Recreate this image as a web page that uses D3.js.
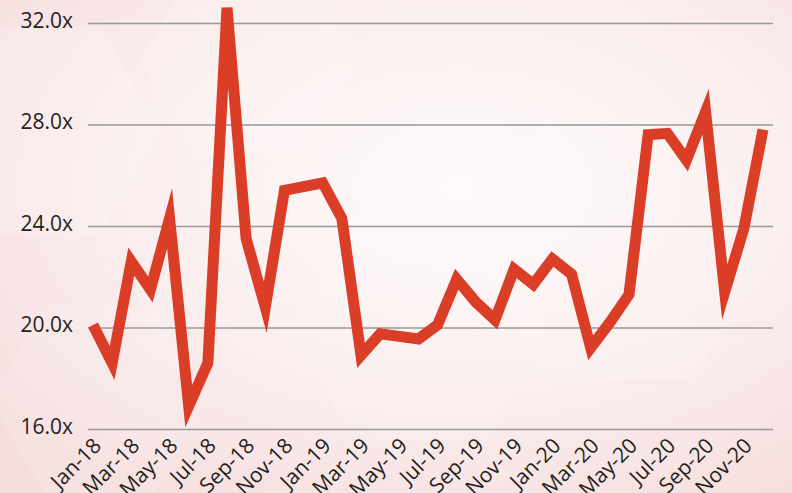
<!DOCTYPE html>
<html>
<head>
<meta charset="utf-8">
<script src="https://cdn.jsdelivr.net/npm/d3@7"></script>
<style>
  html, body { margin: 0; padding: 0; background: #fbeeee; }
  svg { display: block; }
</style>
</head>
<body>
<svg width="792" height="493"></svg>
<script>
const months = [
    'Jan-18', 'Feb-18', 'Mar-18', 'Apr-18', 'May-18', 'Jun-18', 'Jul-18', 'Aug-18', 'Sep-18', 'Oct-18', 'Nov-18', 'Dec-18',
    'Jan-19', 'Feb-19', 'Mar-19', 'Apr-19', 'May-19', 'Jun-19', 'Jul-19', 'Aug-19', 'Sep-19', 'Oct-19', 'Nov-19', 'Dec-19',
    'Jan-20', 'Feb-20', 'Mar-20', 'Apr-20', 'May-20', 'Jun-20', 'Jul-20', 'Aug-20', 'Sep-20', 'Oct-20', 'Nov-20', 'Dec-20'
]
const multiples = [
    20.1, 18.6, 22.6, 21.5, 24.3, 16.9, 18.6, 32.6, 23.5, 20.8, 25.4, 25.55,
    25.7, 24.3, 18.9, 19.75, 19.65, 19.55, 20.1, 21.9, 21.0, 20.3, 22.3, 21.7,
    22.7, 22.1, 19.2, 20.2, 21.3, 27.6, 27.65, 26.6, 28.5, 21.4, 23.9, 27.8
]
const yTicks = [16, 20, 24, 28, 32]

const width = 792
const height = 493
const svg = d3.select('svg')

// soft pink backdrop
const defs = svg.append('defs')
const bg = defs.append('radialGradient').attr('id', 'bg')
    .attr('cx', '58%').attr('cy', '38%').attr('r', '75%')
bg.append('stop').attr('offset', '0%').attr('stop-color', '#fefafa')
bg.append('stop').attr('offset', '55%').attr('stop-color', '#fbeeee')
bg.append('stop').attr('offset', '100%').attr('stop-color', '#f6dede')
svg.append('rect').attr('width', width).attr('height', height).attr('fill', 'url(#bg)')

// faint hexagons in the background
const hexes = [
    { cx: 40, cy: 130, r: 120, o: 0.18 },
    { cx: 250, cy: 60, r: 110, o: 0.15 },
    { cx: 620, cy: 250, r: 150, o: 0.12 },
    { cx: 420, cy: 330, r: 130, o: 0.1 },
    { cx: 100, cy: 400, r: 110, o: 0.12 }
]
const hexPath = h => {
    const pts = d3.range(6).map(i => {
        const a = Math.PI / 3 * i
        return [h.cx + h.r * Math.cos(a), h.cy + h.r * Math.sin(a)]
    })
    return 'M' + pts.join('L') + 'Z'
}
svg.append('g').selectAll('path').data(hexes).join('path')
    .attr('d', hexPath)
    .attr('fill', '#ffffff')
    .attr('fill-opacity', h => h.o)

const x = d3.scalePoint().domain(months).range([93, 763])
const y = d3.scaleLinear().domain([16, 32]).range([429, 23])

const gridLeft = 88
const gridRight = 773

const yAxis = svg.append('g')
    .attr('transform', `translate(${gridLeft},0)`)
    .call(d3.axisLeft(y)
        .tickValues(yTicks)
        .tickSize(-(gridRight - gridLeft))
        .tickPadding(15)
        .tickFormat(d => d.toFixed(1) + 'x'))
yAxis.select('.domain').remove()
yAxis.selectAll('line').attr('stroke', '#9b9898').attr('stroke-width', 1.5)
yAxis.selectAll('text')
    .attr('fill', '#231f20')
    .attr('font-family', 'Open Sans, sans-serif')
    .attr('font-size', 21)
    .attr('dy', '0.2em')

const xAxis = svg.append('g')
    .attr('transform', 'translate(0,429)')
    .call(d3.axisBottom(x)
        .tickValues(months.filter((d, i) => i % 2 === 0))
        .tickSize(0)
        .tickPadding(0))
xAxis.select('.domain').remove()
xAxis.selectAll('text')
    .attr('fill', '#231f20')
    .attr('font-family', 'Open Sans, sans-serif')
    .attr('font-size', 21)
    .attr('text-anchor', 'end')
    .attr('dy', 0)
    .attr('y', 0)
    .attr('transform', 'translate(9,18) rotate(-45)')

const line = d3.line()
    .x((d, i) => x(months[i]))
    .y(d => y(d))

svg.append('path')
    .datum(multiples)
    .attr('d', line)
    .attr('fill', 'none')
    .attr('stroke', '#da3e27')
    .attr('stroke-width', 11)
    .attr('stroke-linejoin', 'miter')
    .attr('stroke-miterlimit', 7)
</script>
</body>
</html>
